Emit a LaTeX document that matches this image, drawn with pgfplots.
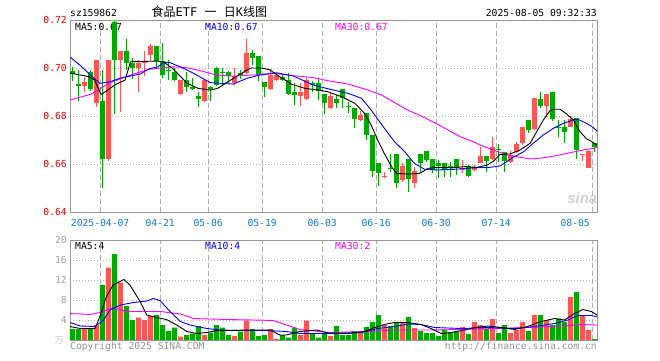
\documentclass[border=0pt]{standalone}
\usepackage{pgfplots}
\pgfplotsset{compat=1.18}
\usepackage{pgfplotstable}
\usepackage{fontspec}
\setmainfont{DejaVu Sans Mono}
\newfontfamily\mono{DejaVu Sans Mono}
\newfontfamily\cjk{Noto Sans CJK SC}
\newfontfamily\sinafont{Liberation Sans}
\definecolor{cRed}{RGB}{255,85,85}
\definecolor{cGreen}{RGB}{0,168,0}
\definecolor{cDate}{RGB}{20,120,215}
\definecolor{cFrame}{RGB}{150,150,150}
\definecolor{cGrid}{RGB}{175,175,175}
\definecolor{cMag}{RGB}{255,0,255}
\definecolor{cBlue}{RGB}{0,0,255}
\definecolor{cLab}{RGB}{235,0,0}
\definecolor{cVlab}{RGB}{160,160,160}

% red (up) candles: i open high low close volume
\pgfplotstableread{
i o h l c v
2 0.6924 0.6961 0.6900 0.6942 2.2
4 0.6854 0.7035 0.6836 0.7035 3.0
6 0.6621 0.7035 0.6614 0.7035 14.5
8 0.7035 0.7072 0.6817 0.7072 11.5
11 0.7000 0.7035 0.6900 0.7021 4.5
12 0.7021 0.7069 0.6965 0.7031 4.0
13 0.7053 0.7100 0.7031 0.7093 4.8
18 0.6892 0.6951 0.6886 0.6951 0.7
22 0.6861 0.6951 0.6858 0.6949 1.0
27 0.6938 0.7000 0.6931 0.6965 0.8
29 0.6979 0.7122 0.6975 0.7063 3.9
33 0.6913 0.6997 0.6910 0.6972 2.2
34 0.6951 0.6979 0.6947 0.6969 0.2
38 0.6882 0.6938 0.6840 0.6900 1.0
39 0.6871 0.6958 0.6868 0.6949 3.9
43 0.6832 0.6901 0.6829 0.6883 0.8
48 0.6783 0.6822 0.6781 0.6804 1.5
52 0.6544 0.6568 0.6540 0.6550 3.0
55 0.6533 0.6603 0.6526 0.6592 3.5
57 0.6522 0.6589 0.6499 0.6571 2.4
65 0.6575 0.6617 0.6561 0.6582 2.6
67 0.6575 0.6596 0.6572 0.6586 3.6
68 0.6606 0.6672 0.6603 0.6633 3.0
70 0.6619 0.6711 0.6617 0.6672 4.2
73 0.6610 0.6656 0.6603 0.6638 1.4
74 0.6651 0.6693 0.6647 0.6683 2.0
75 0.6686 0.6756 0.6679 0.6756 3.6
77 0.6744 0.6874 0.6742 0.6874 5.0
79 0.6842 0.6892 0.6797 0.6892 4.0
83 0.6756 0.6800 0.6756 0.6786 8.6
85 0.6636 0.6642 0.6614 0.6642 4.8
86 0.6582 0.6656 0.6582 0.6656 2.0
}\redtab

% green (down) candles: i open high low close volume
\pgfplotstableread{
i o h l c v
0 0.6986 0.7003 0.6947 0.6975 2.2
1 0.6933 0.6990 0.6861 0.6924 2.2
3 0.6983 0.6990 0.6906 0.6914 2.2
5 0.6861 0.6993 0.6500 0.6622 11.0
7 0.7192 0.7195 0.6810 0.7035 17.2
9 0.7072 0.7122 0.6993 0.7021 6.8
10 0.7021 0.7042 0.6956 0.7000 4.0
14 0.7093 0.7093 0.7000 0.7031 5.0
15 0.7031 0.7104 0.6958 0.6972 3.0
16 0.6990 0.7035 0.6949 0.6986 1.8
17 0.6983 0.7000 0.6944 0.6951 2.5
19 0.6951 0.6983 0.6900 0.6921 1.0
20 0.6921 0.6958 0.6910 0.6913 1.3
21 0.6885 0.6900 0.6838 0.6872 2.8
23 0.6921 0.6924 0.6861 0.6913 1.5
24 0.7000 0.7003 0.6924 0.6931 3.0
25 0.6983 0.7000 0.6931 0.6979 2.5
26 0.6983 0.6986 0.6938 0.6965 1.0
28 0.6979 0.6993 0.6956 0.6969 1.7
30 0.7063 0.7076 0.7014 0.7042 2.2
31 0.7051 0.7051 0.6944 0.6972 0.8
32 0.6942 0.6942 0.6879 0.6921 1.0
35 0.6961 0.6972 0.6944 0.6950 1.0
36 0.6951 0.6979 0.6889 0.6892 0.5
37 0.6900 0.6938 0.6844 0.6886 2.5
40 0.6938 0.6944 0.6900 0.6931 1.3
41 0.6938 0.6958 0.6868 0.6903 0.5
42 0.6892 0.6892 0.6810 0.6854 1.3
44 0.6869 0.6888 0.6832 0.6856 2.8
45 0.6911 0.6911 0.6832 0.6874 1.0
46 0.6840 0.6860 0.6811 0.6836 1.0
47 0.6835 0.6835 0.6751 0.6786 1.8
49 0.6811 0.6811 0.6700 0.6721 2.6
50 0.6721 0.6721 0.6547 0.6572 3.6
51 0.6603 0.6603 0.6508 0.6564 5.0
53 0.6583 0.6642 0.6568 0.6579 2.8
54 0.6642 0.6642 0.6499 0.6522 3.5
56 0.6619 0.6619 0.6485 0.6536 4.6
58 0.6642 0.6642 0.6568 0.6606 1.8
59 0.6654 0.6654 0.6610 0.6617 1.4
60 0.6619 0.6619 0.6564 0.6575 1.4
61 0.6603 0.6617 0.6540 0.6592 0.8
62 0.6603 0.6603 0.6547 0.6575 2.0
63 0.6592 0.6610 0.6547 0.6582 1.6
64 0.6619 0.6619 0.6554 0.6582 1.8
66 0.6592 0.6596 0.6547 0.6550 1.2
69 0.6633 0.6633 0.6568 0.6614 2.2
71 0.6664 0.6683 0.6610 0.6660 1.4
72 0.6651 0.6651 0.6568 0.6614 3.0
76 0.6783 0.6783 0.6728 0.6742 1.8
78 0.6871 0.6901 0.6832 0.6842 5.0
80 0.6901 0.6901 0.6781 0.6786 3.0
81 0.6756 0.6783 0.6714 0.6751 4.3
82 0.6756 0.6783 0.6689 0.6735 3.6
84 0.6790 0.6790 0.6619 0.6658 9.6
87 0.6686 0.6686 0.6651 0.6672 0.2
}\greentab

\pgfplotsset{
  kbase/.style={
    scale only axis, width=527pt,
    xmin=-0.383, xmax=87.45,
    xtick={4.64,14.64,22.64,31.64,41.64,50.64,60.64,70.64,86.64},
    xmajorgrids, ymajorgrids,
    major x grid style={dash pattern=on 5pt off 3pt, draw=cGrid, line width=1pt},
    major y grid style={dash pattern=on 1pt off 2pt, draw=cGrid, line width=1pt},
    axis line style={draw=cFrame, line width=1pt},
    major tick length=0pt, minor tick length=0pt,
    tick style={draw=none},
    yticklabel style={anchor=east, inner sep=0pt, xshift=-3pt, font=\mono\fontsize{9.7pt}{10pt}\selectfont},
    extra y tick style={grid=none},
  },
  wick/.style={draw=none, mark=none, forget plot,
    error bars/y dir=plus, error bars/y explicit, error bars/error mark=none,
    error bars/error bar style={draw=#1, line width=1pt, solid}},
  body/.style={draw=none, mark=none, forget plot,
    error bars/y dir=plus, error bars/y explicit, error bars/error mark=none,
    error bars/error bar style={draw=#1, line width=5pt, solid}},
}

\begin{document}
\begin{tikzpicture}
\path[use as bounding box, fill=white] (0pt,0pt) rectangle (660pt,360pt);

% ---------------- price panel ----------------
\begin{axis}[kbase,
  at={(70pt,148pt)}, anchor=south west, height=192pt,
  ymin=0.64, ymax=0.72,
  ytick={0.66,0.68,0.70}, yticklabels={0.66,0.68,0.70},
  extra y ticks={0.64,0.72}, extra y tick labels={0.64,0.72},
  yticklabel style={text=cLab},
  xticklabels={2025-04-07,04-21,05-06,05-19,06-03,06-16,06-30,07-14,},
  xticklabel style={anchor=base, inner sep=0pt, yshift=-14pt, text=cDate, font=\mono\fontsize{9.7pt}{10pt}\selectfont},
]
\node[anchor=base west, inner sep=0pt, font=\mono\fontsize{9.7pt}{10pt}\selectfont] at (rel axis cs:0.0095,0.9464) {MA5:0.67};
\node[anchor=base west, inner sep=0pt, text=cBlue, font=\mono\fontsize{9.7pt}{10pt}\selectfont] at (rel axis cs:0.2562,0.9464) {MA10:0.67};
\node[anchor=base west, inner sep=0pt, text=cMag, font=\mono\fontsize{9.7pt}{10pt}\selectfont] at (rel axis cs:0.5028,0.9464) {MA30:0.67};
\node[text=gray!35, inner sep=0pt, font=\sinafont\bfseries\itshape\fontsize{15pt}{15pt}\selectfont] at (rel axis cs:0.972,0.07) {sina};

\addplot[wick=cRed] table[x=i, y=l, y error plus expr=\thisrow{h}-\thisrow{l}] {\redtab};
\addplot[wick=cGreen] table[x=i, y=l, y error plus expr=\thisrow{h}-\thisrow{l}] {\greentab};
\addplot[body=cRed] table[x=i, y=o, y error plus expr=\thisrow{c}-\thisrow{o}] {\redtab};
\addplot[body=cGreen] table[x=i, y=c, y error plus expr=\thisrow{o}-\thisrow{c}] {\greentab};

% MA30
\addplot[cMag, line width=0.9pt, mark=none] coordinates {
(-0.38,0.6867) (3,0.6890) (6.3,0.6939) (10.2,0.6975) (12.9,0.6995) (16.8,0.7005)
(19.1,0.7001) (21.3,0.6989) (24.1,0.6970) (26.8,0.6966) (30.2,0.6971) (33.5,0.6978)
(36.8,0.6968) (40.2,0.6960) (42.6,0.6947) (46,0.6933) (49.3,0.6908) (51.5,0.6888)
(53.7,0.6856) (55.9,0.6825) (58.1,0.6800) (60.4,0.6772) (62.6,0.6742) (64.6,0.6714)
(66.8,0.6693) (67.95,0.6679) (70.2,0.6658) (72.4,0.6638) (74.6,0.6628) (76.3,0.6621)
(77.9,0.6624) (80.2,0.6633) (82.4,0.6644) (84.6,0.6656) (86.8,0.6665) (87.45,0.6669)};
% MA10
\addplot[cBlue, line width=0.9pt, mark=none] coordinates {
(-0.38,0.7046) (1.5,0.7007) (3,0.6971) (4.6,0.6936) (6.3,0.6943) (7.9,0.6957)
(11.3,0.6975) (12.7,0.6996) (14.3,0.7005) (15.2,0.7024) (16.3,0.7022) (18,0.7005)
(20.2,0.6978) (23,0.6939) (26.8,0.6933) (29.1,0.6957) (31.3,0.6971) (34,0.6980)
(36.8,0.6967) (40.2,0.6929) (42.7,0.6913) (46,0.6894) (48.2,0.6874) (49.8,0.6825)
(52,0.6749) (53.7,0.6693) (55.4,0.6651) (57,0.6603) (58.7,0.6578) (61,0.6575)
(63.7,0.6578) (66.8,0.6584) (69.6,0.6586) (71.3,0.6592) (73.5,0.6628) (75.2,0.6651)
(76.8,0.6686) (78.5,0.6721) (80.2,0.6749) (81.8,0.6769) (83.8,0.6786) (84.6,0.6783)
(85.7,0.6769) (86.8,0.6753) (87.45,0.6737)};
% MA5
\addplot[black, line width=0.9pt, mark=none] coordinates {
(-0.38,0.6979) (2.6,0.6965) (3.7,0.6951) (4.8,0.6889) (6,0.6910) (7,0.6928)
(8.8,0.6950) (9.7,0.7026) (14.3,0.7029) (15.2,0.7025) (16.8,0.6997) (19.1,0.6937)
(21,0.6915) (23,0.6908) (24.2,0.6915) (26.6,0.6953) (29,0.6990) (29.8,0.7000)
(31.5,0.7000) (32.9,0.6993) (34.4,0.6966) (36.6,0.6932) (38.8,0.6915) (41,0.6908)
(42.6,0.6901) (44.8,0.6881) (47.1,0.6853) (48.7,0.6811) (49.8,0.6763) (50.9,0.6700)
(52,0.6644) (53.2,0.6589) (54,0.6561) (56,0.6558) (57.9,0.6561) (59.3,0.6582)
(61,0.6586) (63.2,0.6584) (65.4,0.6589) (67.4,0.6586) (69.1,0.6595) (70.2,0.6612)
(71.3,0.6640) (73,0.6642) (74.6,0.6658) (76.3,0.6686) (77.4,0.6735) (78.5,0.6783)
(79.6,0.6822) (80.2,0.6828) (81.3,0.6828) (82.4,0.6808) (83.5,0.6784) (84.6,0.6735)
(85.7,0.6705) (86.5,0.6695) (87.45,0.6678)};
\end{axis}

% ---------------- volume panel ----------------
\begin{axis}[kbase,
  at={(70pt,20pt)}, anchor=south west, height=100pt,
  ymin=0, ymax=20,
  ytick={4,8,12,16}, yticklabels={4,8,12,16},
  extra y ticks={20}, extra y tick labels={20},
  yticklabel style={text=cVlab},
  xticklabels={},
]
\node[anchor=base west, inner sep=0pt, font=\mono\fontsize{9.7pt}{10pt}\selectfont] at (rel axis cs:0.0095,0.905) {MA5:4};
\node[anchor=base west, inner sep=0pt, text=cBlue, font=\mono\fontsize{9.7pt}{10pt}\selectfont] at (rel axis cs:0.2562,0.905) {MA10:4};
\node[anchor=base west, inner sep=0pt, text=cMag, font=\mono\fontsize{9.7pt}{10pt}\selectfont] at (rel axis cs:0.5028,0.905) {MA30:2};

\addplot[ybar, bar width=5pt, bar shift=0pt, fill=cRed, draw=none, forget plot] table[x=i, y=v] {\redtab};
\addplot[ybar, bar width=5pt, bar shift=0pt, fill=cGreen, draw=none, forget plot] table[x=i, y=v] {\greentab};

\addplot[cMag, line width=0.9pt, mark=none] coordinates {
(-0.38,5.3) (3,5.1) (4.6,5.5) (6.8,6.5) (9,5.7) (14.6,5.7) (18,5.2) (20.2,4.3)
(25.7,4.1) (30.2,4.0) (33.5,3.9) (35.2,3.2) (37.9,2.1) (42.8,1.5) (49.3,1.7)
(53.7,2.0) (59.3,2.0) (64.8,2.1) (70.4,2.3) (75.9,2.5) (81.5,2.8) (84.8,3.1) (87.45,3.0)};
\addplot[cBlue, line width=0.9pt, mark=none] coordinates {
(-0.38,3.5) (1.3,2.8) (3.8,2.7) (5.2,4.0) (6.3,6.0) (8,7.0) (10.2,7.5) (12.4,7.8)
(13.5,8.3) (14.6,7.9) (16.3,5.7) (18,3.7) (19.6,3.0) (22.4,2.3) (24.6,2.0) (27.9,1.9)
(32.4,1.9) (35.7,1.7) (37.9,1.3) (42.8,1.3) (48.2,1.5) (50.9,2.3) (53.7,2.7) (55.9,3.2)
(58.1,3.1) (60.4,2.5) (64.8,2.3) (69.3,2.5) (73.7,2.3) (77,2.7) (80.4,3.3) (82.6,4.0)
(84.2,4.9) (86.5,4.9) (87.45,4.6)};
\addplot[black, line width=0.9pt, mark=none] coordinates {
(-0.38,2.7) (1.3,2.3) (3.8,2.3) (4.6,4.7) (5.7,8.7) (6.8,11.0) (8.6,12.1) (9.6,11.0)
(11.3,7.7) (12.4,5.0) (14,4.5) (15.7,4.1) (17.4,3.0) (19.1,1.7) (20.7,1.3) (22.4,1.5)
(24.1,1.9) (26.3,1.9) (29.1,2.0) (31.3,2.0) (33,2.0) (34.6,1.0) (35.7,1.0) (37.9,1.7)
(40.7,2.0) (42.7,1.4) (45.9,1.3) (48.7,1.7) (50.4,2.5) (52,3.1) (53.7,3.5) (55.9,3.5)
(58.1,3.1) (59.8,2.3) (61.5,1.3) (63.2,1.5) (65.4,2.0) (67.1,2.5) (69.3,2.8) (71.5,2.5)
(73.7,2.1) (75.9,2.7) (78.1,3.7) (80.4,4.3) (82,4.0) (83.7,5.3) (85.1,6.1) (86.5,5.7)
(87.45,5.0)};
\end{axis}

% ---------------- texts around ----------------
\node[anchor=base west, inner sep=0pt, font=\mono\fontsize{9.7pt}{10pt}\selectfont] at (70pt,343.3pt) {sz159862};
\node[anchor=base west, inner sep=0pt] at (151.5pt,344pt) {\cjk\fontsize{12pt}{12pt}\selectfont 食品{\mono ETF }一{\mono\ }日{\mono K}线图};
\node[anchor=base east, inner sep=0pt, font=\mono\fontsize{9.7pt}{10pt}\selectfont] at (597pt,343.3pt) {2025-08-05 09:32:33};
\node[anchor=base east, inner sep=0pt, text=cDate, font=\mono\fontsize{9.7pt}{10pt}\selectfont] at (590pt,134pt) {08-05};
\node[anchor=east, inner sep=0pt, text=gray!45, font=\cjk\fontsize{9pt}{9pt}\selectfont] at (64pt,20pt) {万};
\node[anchor=base west, inner sep=0pt, text=gray!85, font=\mono\fontsize{9.7pt}{10pt}\selectfont] at (70pt,10.7pt) {Copyright 2025 SINA.COM};
\node[anchor=base east, inner sep=0pt, text=gray!85, font=\mono\fontsize{9.7pt}{10pt}\selectfont] at (597pt,10.7pt) {http://finance.sina.com.cn};
\end{tikzpicture}
\end{document}
